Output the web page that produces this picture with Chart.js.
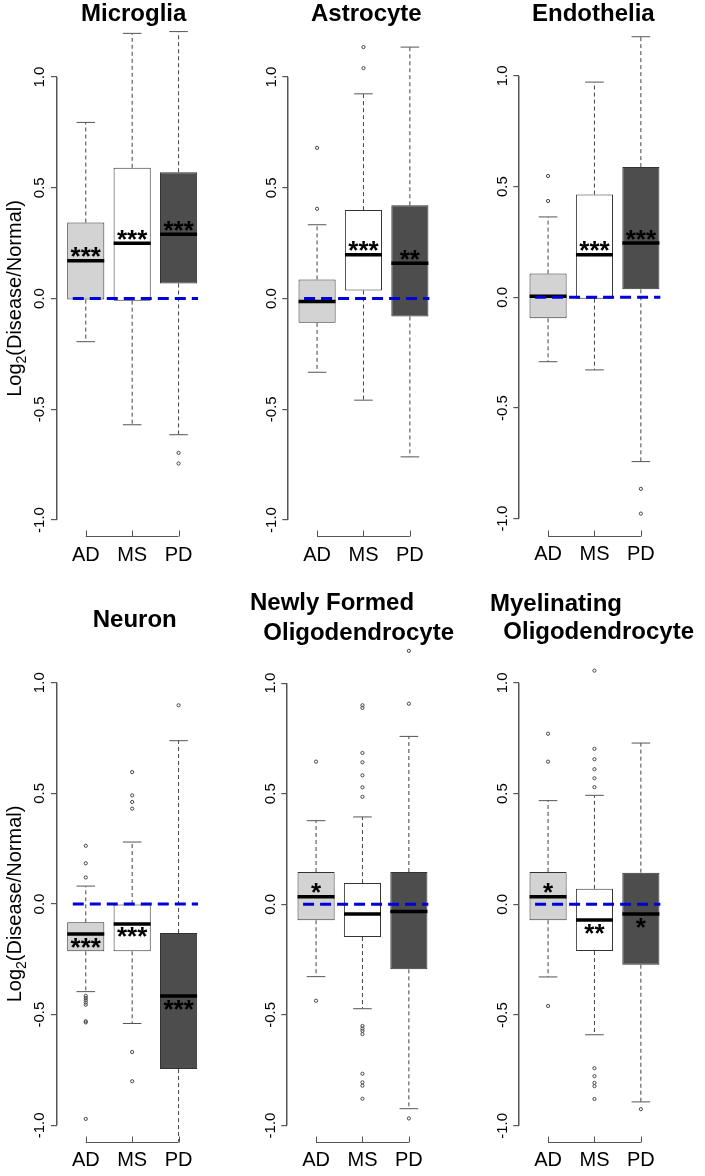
<!DOCTYPE html>
<html>
<head>
<meta charset="utf-8">
<script src="https://cdn.jsdelivr.net/npm/chart.js@4.4.1/dist/chart.umd.min.js"></script>
<style>
html, body { margin: 0; padding: 0; background: #fff; }
#wrap { position: relative; width: 705px; height: 1176px; overflow: hidden; }
canvas { position: absolute; }
</style>
</head>
<body>
<div id="wrap"></div>
<script>
// groups on the x axis and the y ticks
const groups = ['AD', 'MS', 'PD'];
const yTicks = [-1, -0.5, 0, 0.5, 1];
const boxFill = ['#d3d3d3', '#ffffff', '#4d4d4d'];

// one row per group: lower whisker, Q1, median, Q3, upper whisker
const microgliaStats = [
  [-0.195, -0.005, 0.17, 0.343, 0.795],
  [-0.57, -0.01, 0.25, 0.59, 1.197],
  [-0.615, 0.068, 0.29, 0.57, 1.205]
];
const microgliaOutliers = [[], [], [-0.697, -0.745]];
const microgliaStars = ['***', '***', '***'];

const astrocyteStats = [
  [-0.333, -0.11, -0.014, 0.086, 0.333],
  [-0.459, 0.036, 0.197, 0.399, 0.924],
  [-0.715, -0.081, 0.159, 0.421, 1.135]
];
const astrocyteOutliers = [[0.405, 0.68], [1.04, 1.135], []];
const astrocyteStars = ['', '***', '**'];

const endotheliaStats = [
  [-0.291, -0.095, 0.005, 0.107, 0.363],
  [-0.328, -0.006, 0.192, 0.464, 0.972],
  [-0.742, 0.036, 0.245, 0.588, 1.177]
];
const endotheliaOutliers = [[0.435, 0.548], [], [-0.865, -0.977]];
const endotheliaStars = ['', '***', '***'];

const neuronStats = [
  [-0.396, -0.214, -0.136, -0.083, 0.081],
  [-0.54, -0.214, -0.09, 0.0, 0.28],
  [-1.3, -0.746, -0.416, -0.131, 0.738]
];
const neuronOutliers = [
  [0.263, 0.184, 0.12, -0.415, -0.425, -0.435, -0.445, -0.455, -0.53, -0.535, -0.971],
  [0.596, 0.491, 0.461, 0.431, -0.669, -0.801],
  [0.898]
];
const neuronStars = ['***', '***', '***'];

const newlyStats = [
  [-0.327, -0.072, 0.034, 0.146, 0.378],
  [-0.472, -0.148, -0.044, 0.096, 0.395],
  [-0.924, -0.294, -0.033, 0.146, 0.759]
];
const newlyOutliers = [
  [0.645, -0.436],
  [0.9, 0.888, 0.684, 0.642, 0.583, 0.529, 0.486, -0.55, -0.562, -0.572, -0.587, -0.766, -0.805, -0.82, -0.879],
  [1.146, 0.907, -0.968]
];
const newlyStars = ['*', '', ''];

const myelinStats = [
  [-0.328, -0.072, 0.034, 0.146, 0.468],
  [-0.589, -0.211, -0.071, 0.07, 0.492],
  [-0.892, -0.273, -0.044, 0.143, 0.728]
];
const myelinOutliers = [
  [0.77, 0.644, -0.459],
  [1.055, 0.702, 0.655, 0.61, 0.569, 0.529, -0.74, -0.776, -0.806, -0.821, -0.879],
  [-0.925]
];
const myelinStars = ['*', '**', '*'];

const panels = [
  { title: ['Microglia'], stats: microgliaStats, outliers: microgliaOutliers, stars: microgliaStars },
  { title: ['Astrocyte'], stats: astrocyteStats, outliers: astrocyteOutliers, stars: astrocyteStars },
  { title: ['Endothelia'], stats: endotheliaStats, outliers: endotheliaOutliers, stars: endotheliaStars },
  { title: ['Neuron'], stats: neuronStats, outliers: neuronOutliers, stars: neuronStars },
  { title: ['Newly Formed', 'Oligodendrocyte'], stats: newlyStats, outliers: newlyOutliers, stars: newlyStars },
  { title: ['Myelinating', 'Oligodendrocyte'], stats: myelinStats, outliers: myelinOutliers, stars: myelinStars }
];

// where each panel sits on the page (pixels)
const layout = [
  { x: 0, y: 0, w: 235, h: 580, axisX: 57, zeroY: 298.5, unit: 221.5, top: 30, bottom: 536, titleX: [81], titleY: [20.7], ylab: true },
  { x: 235, y: 0, w: 235, h: 580, axisX: 53.3, zeroY: 298.5, unit: 221.5, top: 30, bottom: 536, titleX: [76], titleY: [20.7] },
  { x: 470, y: 0, w: 235, h: 580, axisX: 49.3, zeroY: 297.3, unit: 221.4, top: 30, bottom: 535.7, titleX: [62], titleY: [20.7] },
  { x: 0, y: 580, w: 235, h: 596, axisX: 57, zeroY: 324, unit: 221.3, top: 60, bottom: 561.7, titleX: [92.7], titleY: [46.7], ylab: true },
  { x: 235, y: 580, w: 235, h: 596, axisX: 52.3, zeroY: 324.3, unit: 221.2, top: 60, bottom: 561.7, titleX: [15, 28.3], titleY: [30, 60] },
  { x: 470, y: 580, w: 235, h: 596, axisX: 49.3, zeroY: 324.3, unit: 221.5, top: 60, bottom: 561.7, titleX: [20, 33.3], titleY: [31, 59.3] }
];

const FONT = '"Liberation Sans", Arial, Helvetica, sans-serif';
const xStep = 46.4;      // pixels between groups
const yAxisW = 45;
const xAxisH = 30;
const xMin = 0.38, xMax = groups.length + 0.62;

function drawYTitle(ctx, cx, cy) {
  ctx.save();
  ctx.translate(cx, cy);
  ctx.rotate(-Math.PI / 2);
  const big = '20px ' + FONT, small = '14px ' + FONT;
  ctx.font = big;
  const w1 = ctx.measureText('Log').width;
  const w3 = ctx.measureText('(Disease/Normal)').width;
  ctx.font = small;
  const w2 = ctx.measureText('2').width;
  let x = -(w1 + w2 + w3) / 2;
  ctx.fillStyle = '#000';
  ctx.textAlign = 'left';
  ctx.textBaseline = 'alphabetic';
  ctx.font = big; ctx.fillText('Log', x, 0); x += w1;
  ctx.font = small; ctx.fillText('2', x, 5); x += w2;
  ctx.font = big; ctx.fillText('(Disease/Normal)', x, 0);
  ctx.restore();
}

function makeExtras(panel, lay) {
  return {
    id: 'boxExtras',
    afterDatasetsDraw(chart) {
      const ctx = chart.ctx, xs = chart.scales.x, ys = chart.scales.y;
      // left axis line, only across the tick range
      const ax = xs.getPixelForValue(xMin);
      const yA = ys.getPixelForValue(yTicks[yTicks.length - 1]);
      const yB = ys.getPixelForValue(yTicks[0]);
      ctx.save();
      ctx.fillStyle = '#555';
      ctx.fillRect(Math.round(ax) - 1, yA, 1.5, yB - yA);
      ctx.restore();
      // significance stars next to the median
      ctx.save();
      ctx.font = 'bold 26px ' + FONT;
      ctx.fillStyle = '#000';
      ctx.textAlign = 'center';
      ctx.textBaseline = 'alphabetic';
      const m = ctx.measureText('*');
      const mid = (m.actualBoundingBoxDescent - m.actualBoundingBoxAscent) / 2;
      panel.stars.forEach((s, i) => {
        if (!s) return;
        const med = panel.stats[i][2];
        const py = ys.getPixelForValue(med);
        const cy = med > 0 ? py - 8.5 : py + 8.5;
        ctx.fillText(s, xs.getPixelForValue(i + 1), cy - mid);
      });
      ctx.restore();
    },
    afterDraw(chart) {
      const ctx = chart.ctx, xs = chart.scales.x;
      const a = chart.chartArea;
      ctx.save();
      ctx.setLineDash([]);
      ctx.lineWidth = 1;
      ctx.strokeStyle = '#555';
      // bracket style x axis
      const by = Math.round(a.bottom) + 0.5;
      const x1 = xs.getPixelForValue(1), x3 = xs.getPixelForValue(groups.length);
      ctx.beginPath();
      ctx.moveTo(x1, by); ctx.lineTo(x3, by);
      groups.forEach((g, i) => {
        const gx = Math.round(xs.getPixelForValue(i + 1)) + 0.5;
        ctx.moveTo(gx, by); ctx.lineTo(gx, by - 6);
      });
      ctx.stroke();
      // panel title
      ctx.fillStyle = '#000';
      ctx.font = 'bold 24px ' + FONT;
      ctx.textAlign = 'left';
      ctx.textBaseline = 'alphabetic';
      panel.title.forEach((t, i) => ctx.fillText(t, lay.titleX[i], lay.titleY[i]));
      ctx.restore();
      if (lay.ylab) drawYTitle(ctx, 21, lay.zeroY);
    }
  };
}

const wrap = document.getElementById('wrap');

panels.forEach((panel, p) => {
  const lay = layout[p];
  const cv = document.createElement('canvas');
  cv.width = lay.w; cv.height = lay.h;
  cv.style.left = lay.x + 'px'; cv.style.top = lay.y + 'px';
  wrap.appendChild(cv);

  const right = lay.axisX + (xMax - xMin) * xStep;
  const yMax = (lay.zeroY - lay.top) / lay.unit;
  const yMin = (lay.zeroY - lay.bottom) / lay.unit;

  const boxes = panel.stats.map((s, i) => ({ x: i + 1, y: [s[1], s[3]] }));
  const medians = panel.stats.map((s, i) => ({ x: i + 1, y: s[2] }));
  const caps = [];
  const whiskers = [];
  panel.stats.forEach((s, i) => {
    caps.push({ x: i + 1, y: s[0] }, { x: i + 1, y: s[4] });
    whiskers.push({ x: i + 1, y: s[3] }, { x: i + 1, y: s[4] }, { x: i + 1, y: null },
                  { x: i + 1, y: s[1] }, { x: i + 1, y: s[0] }, { x: i + 1, y: null });
  });
  const outs = [];
  panel.outliers.forEach((arr, i) => arr.forEach(v => outs.push({ x: i + 1, y: v })));

  new Chart(cv.getContext('2d'), {
    data: {
      datasets: [
        {
          type: 'line', data: whiskers, order: 6,
          borderColor: '#444', borderWidth: 1, borderDash: [4, 3],
          pointRadius: 0, spanGaps: false, tension: 0
        },
        {
          type: 'bar', data: boxes, order: 5,
          backgroundColor: boxFill, borderColor: '#333', borderWidth: 1,
          borderSkipped: false, categoryPercentage: 0.8, barPercentage: 1
        },
        {
          type: 'scatter', data: caps, order: 4,
          pointStyle: 'line', pointRadius: 9.3, borderColor: '#555', borderWidth: 1
        },
        {
          type: 'scatter', data: outs, order: 4,
          pointStyle: 'circle', pointRadius: 1.6, borderColor: '#444',
          backgroundColor: 'rgba(0,0,0,0)', borderWidth: 1
        },
        {
          type: 'scatter', data: medians, order: 3,
          pointStyle: 'line', pointRadius: 18.5, borderColor: '#000', borderWidth: 3.5
        },
        {
          type: 'line', data: [{ x: 0.72, y: 0 }, { x: 3.42, y: 0 }], order: 2,
          borderColor: '#0000d8', borderWidth: 3, borderDash: [11, 6], pointRadius: 0
        }
      ]
    },
    options: {
      responsive: false,
      animation: false,
      events: [],
      layout: {
        padding: {
          left: lay.axisX - yAxisW,
          right: lay.w - right,
          top: lay.top,
          bottom: lay.h - lay.bottom - xAxisH
        }
      },
      plugins: { legend: { display: false }, tooltip: { enabled: false }, title: { display: false } },
      scales: {
        x: {
          type: 'linear', min: xMin, max: xMax, offset: false,
          afterBuildTicks: s => { s.ticks = groups.map((g, i) => ({ value: i + 1 })); },
          afterFit: s => { s.height = xAxisH; },
          grid: { display: false, drawTicks: false, offset: false },
          border: { display: false },
          ticks: {
            autoSkip: false, maxRotation: 0, padding: 7,
            color: '#000', font: { family: FONT, size: 20 },
            callback: v => groups[Math.round(v) - 1]
          }
        },
        y: {
          type: 'linear', min: yMin, max: yMax,
          afterBuildTicks: s => { s.ticks = yTicks.map(v => ({ value: v })); },
          afterFit: s => { s.width = yAxisW; },
          grid: { display: true, drawOnChartArea: false, drawTicks: true, tickLength: 6, color: '#555', lineWidth: 1.2 },
          border: { display: false },
          ticks: {
            minRotation: 90, maxRotation: 90, crossAlign: 'center', padding: -2,
            color: '#000', font: { family: FONT, size: 15 },
            callback: v => v.toFixed(1)
          }
        }
      }
    },
    plugins: [makeExtras(panel, lay)]
  });
});
</script>
</body>
</html>
